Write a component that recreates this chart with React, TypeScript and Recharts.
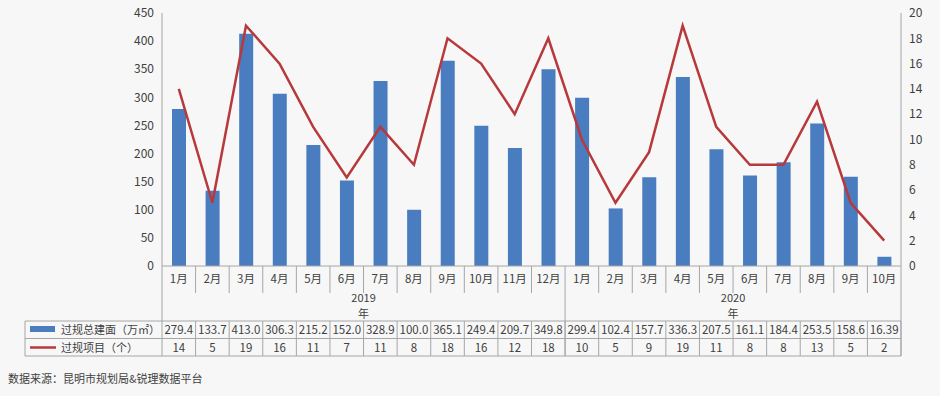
import React from 'react';
import { ComposedChart, Bar, Line, XAxis, YAxis } from 'recharts';

// categories, two years of months
const months2019 = ['1月', '2月', '3月', '4月', '5月', '6月', '7月', '8月', '9月', '10月', '11月', '12月'];
const months2020 = ['1月', '2月', '3月', '4月', '5月', '6月', '7月', '8月', '9月', '10月'];
const years = ['2019', '2020'];

// series values
const areaValues = [
  279.4, 133.7, 413.0, 306.3, 215.2, 152.0, 328.9, 100.0, 365.1, 249.4, 209.7, 349.8,
  299.4, 102.4, 157.7, 336.3, 207.5, 161.1, 184.4, 253.5, 158.6, 16.39,
];
const areaLabels = [
  '279.4', '133.7', '413.0', '306.3', '215.2', '152.0', '328.9', '100.0', '365.1', '249.4', '209.7', '349.8',
  '299.4', '102.4', '157.7', '336.3', '207.5', '161.1', '184.4', '253.5', '158.6', '16.39',
];
const projectValues = [14, 5, 19, 16, 11, 7, 11, 8, 18, 16, 12, 18, 10, 5, 9, 19, 11, 8, 8, 13, 5, 2];

// tick labels
const leftTicks = [0, 50, 100, 150, 200, 250, 300, 350, 400, 450];
const rightTicks = [0, 2, 4, 6, 8, 10, 12, 14, 16, 18, 20];

const seriesNames = ['过规总建面（万㎡）', '过规项目（个）'];
const sourceText = '数据来源：昆明市规划局&锐理数据平台';

const BLUE = '#4a7dbf';
const RED = '#b7393b';
const GRID = '#a6a6a6';
const TEXT = '#404040';
const FONT = '"Noto Sans CJK SC", "Noto Sans", sans-serif';

const groups = [months2019, months2020];
const monthLabels = [...months2019, ...months2020];

const data = monthLabels.map((m, i) => ({
  key: `${i < months2019.length ? years[0] : years[1]}-${m}`,
  month: m,
  area: areaValues[i],
  projects: projectValues[i],
}));

const WIDTH = 940;
const HEIGHT = 396;
const LEFT_AXIS_W = 162;
const RIGHT_AXIS_W = 39;
const PLOT_W = WIDTH - LEFT_AXIS_W - RIGHT_AXIS_W;
const CELL_W = PLOT_W / monthLabels.length;
const TABLE_LEFT = 25;

// group boundaries / centers for the year row
const groupEnds: number[] = [];
const groupCenters: number[] = [];
let start = 0;
groups.forEach((g) => {
  groupEnds.push(start + g.length - 1);
  groupCenters.push(start + g.length / 2 - 1);
  start += g.length;
});

const TableTick = (props: any) => {
  const { x, y, index } = props;
  const half = CELL_W / 2;
  const left = x - half;
  const right = x + half;
  const isGroupEnd = groupEnds.includes(index);
  const yearIdx = groupCenters.indexOf(index);
  const r1 = y + 55;
  const r2 = y + 72.5;
  const r3 = y + 90;
  return (
    <g style={{ fontFamily: FONT }}>
      <text x={x} y={y + 17} textAnchor="middle" fontSize={11.5} fill={TEXT}>
        {monthLabels[index]}
      </text>
      <line x1={right} y1={y} x2={right} y2={isGroupEnd ? r3 : y + 27} stroke={GRID} />
      <line x1={right} y1={r1} x2={right} y2={r3} stroke={GRID} />
      {yearIdx >= 0 && (
        <g>
          <text x={right} y={y + 36} textAnchor="middle" fontSize={11} fill={TEXT}>
            {years[yearIdx]}
          </text>
          <text x={right} y={y + 52} textAnchor="middle" fontSize={11} fill={TEXT}>
            年
          </text>
        </g>
      )}
      <line x1={left} y1={r1} x2={right} y2={r1} stroke={GRID} />
      <line x1={left} y1={r2} x2={right} y2={r2} stroke={GRID} />
      <line x1={left} y1={r3} x2={right} y2={r3} stroke={GRID} />
      <text x={x} y={r1 + 13} textAnchor="middle" fontSize={11.5} fill={TEXT}>
        {areaLabels[index]}
      </text>
      <text x={x} y={r2 + 13} textAnchor="middle" fontSize={11.5} fill={TEXT}>
        {projectValues[index]}
      </text>
      {index === 0 && (
        <g>
          <line x1={left} y1={y} x2={left} y2={r3} stroke={GRID} />
          <line x1={TABLE_LEFT} y1={r1} x2={left} y2={r1} stroke={GRID} />
          <line x1={TABLE_LEFT} y1={r2} x2={left} y2={r2} stroke={GRID} />
          <line x1={TABLE_LEFT} y1={r3} x2={left} y2={r3} stroke={GRID} />
          <line x1={TABLE_LEFT} y1={r1} x2={TABLE_LEFT} y2={r3} stroke={GRID} />
          <rect x={30} y={r1 + 5} width={25} height={6} fill={BLUE} />
          <text x={61} y={r1 + 13} fontSize={11} fill={TEXT}>
            {seriesNames[0]}
          </text>
          <line x1={30} y1={r2 + 9} x2={56} y2={r2 + 9} stroke={RED} strokeWidth={2.5} />
          <text x={61} y={r2 + 13} fontSize={11} fill={TEXT}>
            {seriesNames[1]}
          </text>
        </g>
      )}
    </g>
  );
};

const App = () => {
  return (
    <div
      style={{
        position: 'absolute',
        left: 0,
        top: 0,
        width: WIDTH,
        height: HEIGHT,
        background: '#f7f7f7',
        fontFamily: FONT,
      }}
    >
      <ComposedChart
        width={WIDTH}
        height={HEIGHT}
        data={data}
        margin={{ top: 13, right: 0, bottom: 40, left: 0 }}
        barSize={14}
      >
        <XAxis
          dataKey="key"
          xAxisId="x"
          height={90}
          interval={0}
          tickSize={0}
          tickMargin={0}
          tickLine={false}
          axisLine={{ stroke: GRID }}
          tick={<TableTick />}
        />
        <YAxis
          yAxisId="left"
          orientation="left"
          width={LEFT_AXIS_W}
          domain={[0, 450]}
          ticks={leftTicks}
          interval={0}
          tickLine={false}
          axisLine={{ stroke: GRID }}
          tick={{ fontSize: 12, fill: TEXT, fontFamily: FONT }}
        />
        <YAxis
          yAxisId="right"
          orientation="right"
          width={RIGHT_AXIS_W}
          domain={[0, 20]}
          ticks={rightTicks}
          interval={0}
          tickLine={false}
          axisLine={{ stroke: GRID }}
          tick={{ fontSize: 12, fill: TEXT, fontFamily: FONT, textAnchor: 'start' }}
        />
        <Bar
          xAxisId="x"
          yAxisId="left"
          dataKey="area"
          name={seriesNames[0]}
          fill={BLUE}
          isAnimationActive={false}
        />
        <Line
          xAxisId="x"
          yAxisId="right"
          dataKey="projects"
          name={seriesNames[1]}
          type="linear"
          stroke={RED}
          strokeWidth={2.5}
          dot={false}
          activeDot={false}
          isAnimationActive={false}
        />
      </ComposedChart>
      <div
        style={{
          position: 'absolute',
          left: 8,
          top: 370,
          fontSize: 11,
          color: TEXT,
        }}
      >
        {sourceText}
      </div>
    </div>
  );
};

export default App;
